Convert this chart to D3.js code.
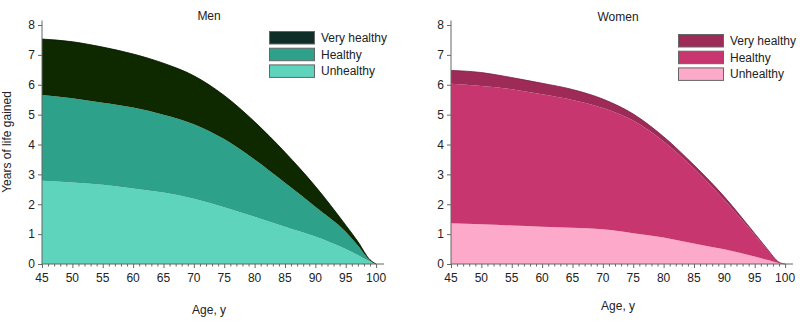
<!DOCTYPE html>
<html>
<head>
<meta charset="utf-8" />
<title>Years of life gained by age</title>
<style>
  body { margin: 0; background: #fff; }
  svg text { font-family: Arial, "Liberation Sans", sans-serif; font-size: 12px; fill: #222; }
</style>
</head>
<body>
<div id="chart"></div>
<script src="https://d3js.org/d3.v7.min.js" charset="utf-8"></script>
<script type="text/javascript">
// ages at which the years gained were read
var ages = [45, 50, 55, 60, 65, 70, 75, 80, 85, 90, 95, 97, 99, 100];
var bands = ["Unhealthy", "Healthy", "Very healthy"];
var xTicks = [45, 50, 55, 60, 65, 70, 75, 80, 85, 90, 95, 100];
var yTicks = [0, 1, 2, 3, 4, 5, 6, 7, 8];

// years gained per band (stacked bottom to top)
var menUnhealthy   = [2.79, 2.73, 2.65, 2.53, 2.39, 2.18, 1.90, 1.58, 1.25, 0.92, 0.50, 0.30, 0.08, 0];
var menHealthy     = [2.87, 2.82, 2.75, 2.71, 2.61, 2.50, 2.28, 1.92, 1.47, 1.00, 0.58, 0.32, 0.04, 0];
var menVeryHealthy = [1.87, 1.89, 1.86, 1.79, 1.72, 1.62, 1.46, 1.26, 1.02, 0.68, 0.22, 0.13, 0.02, 0];

var womenUnhealthy   = [1.36, 1.33, 1.29, 1.25, 1.21, 1.16, 1.03, 0.89, 0.69, 0.49, 0.25, 0.14, 0.03, 0];
var womenHealthy     = [4.67, 4.63, 4.56, 4.43, 4.28, 4.06, 3.77, 3.21, 2.51, 1.65, 0.72, 0.36, 0.03, 0];
var womenVeryHealthy = [0.45, 0.45, 0.39, 0.37, 0.35, 0.30, 0.22, 0.16, 0.11, 0.11, 0.05, 0.02, 0, 0];

var width = 800, height = 326;
var svg = d3.select("#chart").append("svg")
  .attr("width", width)
  .attr("height", height);

function panel(opts) {
  var rows = ages.map(function(a, i) {
    var r = { age: a };
    r["Unhealthy"] = opts.values[0][i];
    r["Healthy"] = opts.values[1][i];
    r["Very healthy"] = opts.values[2][i];
    return r;
  });
  var series = d3.stack().keys(bands)(rows);

  var x = d3.scaleLinear().domain([45, 101.3]).range([opts.left, opts.left + 342]);
  var y = d3.scaleLinear().domain([0, 8]).range([264, 25]);

  var g = svg.append("g");

  var area = d3.area()
    .curve(d3.curveMonotoneX)
    .x(function(d) { return x(d.data.age); })
    .y0(function(d) { return y(d[0]); })
    .y1(function(d) { return y(d[1]); });

  g.selectAll("path.band")
    .data(series)
    .enter().append("path")
    .attr("class", "band")
    .attr("d", area)
    .attr("fill", function(d, i) { return opts.fills[i]; });

  // thin darker edge along the top of the stack
  var top = series[series.length - 1];
  g.append("path")
    .attr("d", d3.line()
      .curve(d3.curveMonotoneX)
      .x(function(d) { return x(d.data.age); })
      .y(function(d) { return y(d[1]); })(top))
    .attr("fill", "none")
    .attr("stroke", opts.edge)
    .attr("stroke-width", 0.8);

  // x axis: major ticks every 5, minor every year
  var xa = g.append("g").attr("transform", "translate(0," + y(0) + ")");
  xa.append("line")
    .attr("x1", x(45)).attr("x2", x(101.3))
    .attr("stroke", "#666");
  xa.selectAll("line.minor")
    .data(d3.range(45, 101))
    .enter().append("line")
    .attr("class", "minor")
    .attr("x1", function(d) { return x(d) + 0.5; })
    .attr("x2", function(d) { return x(d) + 0.5; })
    .attr("y1", 0)
    .attr("y2", function(d) { return d % 5 === 0 ? 4 : 2.5; })
    .attr("stroke", "#666");
  xa.selectAll("text")
    .data(xTicks)
    .enter().append("text")
    .attr("x", function(d) { return x(d); })
    .attr("y", 18)
    .attr("text-anchor", "middle")
    .text(function(d) { return d; });

  // y axis
  var ya = g.append("g").attr("transform", "translate(" + x(45) + ",0)");
  ya.append("line")
    .attr("y1", y(0)).attr("y2", y(8.15))
    .attr("stroke", "#666");
  ya.selectAll("line.tick")
    .data(yTicks)
    .enter().append("line")
    .attr("class", "tick")
    .attr("x1", -4).attr("x2", 0)
    .attr("y1", function(d) { return y(d) + 0.5; })
    .attr("y2", function(d) { return y(d) + 0.5; })
    .attr("stroke", "#666");
  ya.selectAll("text")
    .data(yTicks)
    .enter().append("text")
    .attr("x", -7)
    .attr("y", function(d) { return y(d); })
    .attr("dy", "0.36em")
    .attr("text-anchor", "end")
    .text(function(d) { return d; });

  // titles
  g.append("text")
    .attr("x", (x(45) + x(100)) / 2)
    .attr("y", opts.titleY)
    .attr("text-anchor", "middle")
    .text(opts.title);
  g.append("text")
    .attr("x", (x(45) + x(100)) / 2)
    .attr("y", opts.xLabelY)
    .attr("text-anchor", "middle")
    .text("Age, y");
  if (opts.yLabel) {
    g.append("text")
      .attr("transform", "translate(11,142) rotate(-90)")
      .attr("text-anchor", "middle")
      .text(opts.yLabel);
  }

  // legend, top band first
  var lg = g.append("g").attr("transform", "translate(" + opts.legendX + "," + opts.legendY + ")");
  var items = bands.slice().reverse();
  var itemFills = opts.legendFills.slice().reverse();
  items.forEach(function(name, i) {
    lg.append("rect")
      .attr("x", 0.5)
      .attr("y", i * 16.7 + 0.5)
      .attr("width", 45)
      .attr("height", 12.5)
      .attr("fill", itemFills[i])
      .attr("stroke", "#666");
    lg.append("text")
      .attr("x", 52)
      .attr("y", i * 16.7 + 6.5)
      .attr("dy", "0.36em")
      .text(name);
  });
}

panel({
  title: "Men",
  left: 42,
  titleY: 20,
  xLabelY: 314,
  yLabel: "Years of life gained",
  values: [menUnhealthy, menHealthy, menVeryHealthy],
  fills: ["#5fd4bd", "#2da18a", "#0e2800"],
  legendFills: ["#5fd4bd", "#2da18a", "#0f2e27"],
  edge: "#061400",
  legendX: 269,
  legendY: 31
});

panel({
  title: "Women",
  left: 451,
  titleY: 21,
  xLabelY: 310,
  values: [womenUnhealthy, womenHealthy, womenVeryHealthy],
  fills: ["#fda9c9", "#c8366f", "#9e2a58"],
  legendFills: ["#fda9c9", "#c8366f", "#9e2a58"],
  edge: "#7a1d44",
  legendX: 678,
  legendY: 34
});
</script>
</body>
</html>
